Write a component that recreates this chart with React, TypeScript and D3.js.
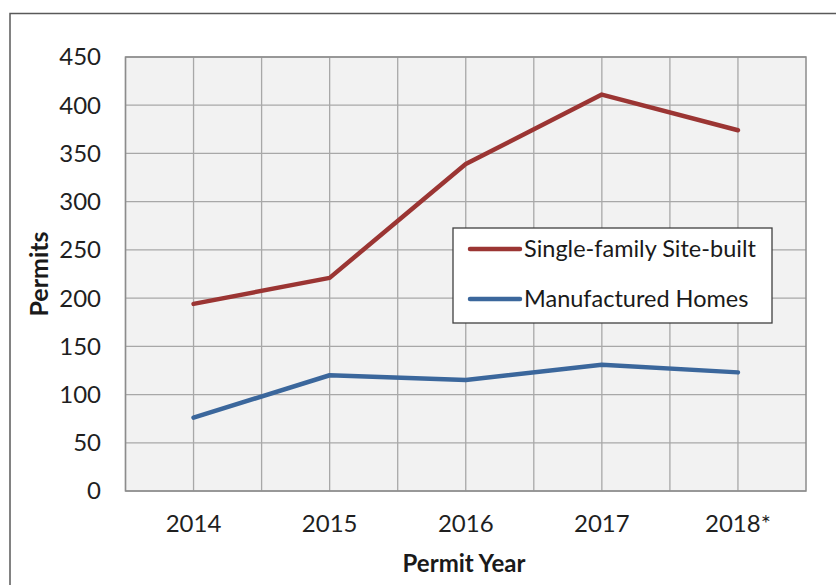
import React from "react";
import * as d3 from "d3";

const years = ["2014", "2015", "2016", "2017", "2018*"];
const singleFamily = [194, 221, 339, 411, 374];
const manufactured = [76, 120, 115, 131, 123];
const yTicks = [0, 50, 100, 150, 200, 250, 300, 350, 400, 450];
const seriesNames = ["Single-family Site-built", "Manufactured Homes"];
const seriesColors = ["#9b3533", "#3b679c"];

const W = 836;
const H = 585;
const plot = { left: 125.5, right: 806, top: 57, bottom: 491 };
const FONT = "Lato, 'Open Sans', sans-serif";

export default function App() {
  const x = d3
    .scaleBand<string>()
    .domain(years)
    .range([plot.left, plot.right])
    .paddingInner(0)
    .paddingOuter(0);
  const xc = (d: string) => (x(d) as number) + x.bandwidth() / 2;
  const y = d3.scaleLinear().domain([0, 450]).range([plot.bottom, plot.top]);

  const line = d3
    .line<[string, number]>()
    .x((d) => xc(d[0]))
    .y((d) => y(d[1]));

  const series = [singleFamily, manufactured];

  const vGrid: number[] = [];
  years.forEach((yr) => {
    vGrid.push(x(yr) as number);
    vGrid.push(xc(yr));
  });

  const legend = { x: 453, y: 228, w: 319, h: 95 };

  return (
    <svg
      width={W}
      height={H}
      style={{ position: "absolute", left: 0, top: 0, background: "#fff" }}
      fontFamily={FONT}
    >
      <rect x={10} y={13.5} width={W + 20} height={H + 20} fill="#fff" stroke="#595959" strokeWidth={1.5} />
      <rect
        x={plot.left}
        y={plot.top}
        width={plot.right - plot.left}
        height={plot.bottom - plot.top}
        fill="#f2f2f2"
      />
      {yTicks.map((t) => (
        <line key={"h" + t} x1={plot.left} x2={plot.right} y1={y(t)} y2={y(t)} stroke="#a8a8a8" strokeWidth={1.3} />
      ))}
      {vGrid.map((v, i) => (
        <line key={"v" + i} x1={v} x2={v} y1={plot.top} y2={plot.bottom} stroke="#a8a8a8" strokeWidth={1.3} />
      ))}
      <rect
        x={plot.left}
        y={plot.top}
        width={plot.right - plot.left}
        height={plot.bottom - plot.top}
        fill="none"
        stroke="#8c8c8c"
        strokeWidth={1.5}
      />
      {yTicks.map((t) => (
        <text key={"yl" + t} x={101} y={y(t)} dy="0.35em" textAnchor="end" fontSize={24} fill="#1f1f1f">
          {t}
        </text>
      ))}
      {years.map((yr) => (
        <text key={"xl" + yr} x={xc(yr)} y={532} textAnchor="middle" fontSize={24} fill="#1f1f1f">
          {yr}
        </text>
      ))}
      {series.map((vals, i) => (
        <path
          key={"s" + i}
          d={line(years.map((yr, j) => [yr, vals[j]] as [string, number])) || ""}
          fill="none"
          stroke={seriesColors[i]}
          strokeWidth={4.5}
          strokeLinejoin="round"
          strokeLinecap="round"
        />
      ))}
      <rect x={legend.x} y={legend.y} width={legend.w} height={legend.h} fill="#fff" stroke="#404040" strokeWidth={1.3} />
      {seriesNames.map((n, i) => {
        const ly = 249 + i * 50;
        return (
          <g key={"lg" + i}>
            <line x1={470} x2={520} y1={ly} y2={ly} stroke={seriesColors[i]} strokeWidth={4.5} strokeLinecap="round" />
            <text x={524} y={ly} dy="0.35em" fontSize={23.5} fill="#1a1a1a">
              {n}
            </text>
          </g>
        );
      })}
      <text x={464} y={572} textAnchor="middle" fontSize={24} fontWeight="bold" fill="#1a1a1a">
        Permit Year
      </text>
      <text
        transform={`translate(48, ${(plot.top + plot.bottom) / 2}) rotate(-90)`}
        textAnchor="middle"
        fontSize={25}
        fontWeight="bold"
        fill="#1a1a1a"
      >
        Permits
      </text>
    </svg>
  );
}
